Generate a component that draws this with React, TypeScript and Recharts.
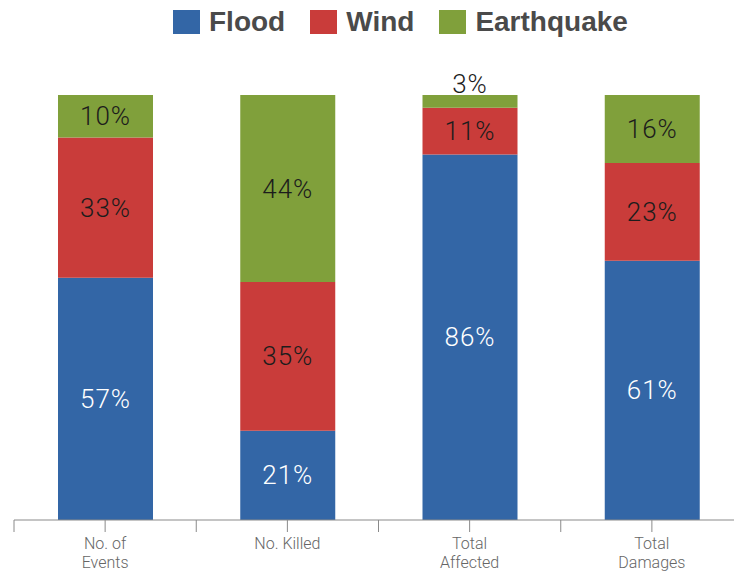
import React from "react";
import { BarChart, Bar, XAxis, YAxis, LabelList } from "recharts";

const categories = ["No. of\nEvents", "No. Killed", "Total\nAffected", "Total\nDamages"];
const flood = [57, 21, 86, 61];
const wind = [33, 35, 11, 23];
const earthquake = [10, 44, 3, 16];

const COLORS = { flood: "#3366a6", wind: "#c93c3a", earthquake: "#80a03b" };
const legendItems = [
  { name: "Flood", color: COLORS.flood },
  { name: "Wind", color: COLORS.wind },
  { name: "Earthquake", color: COLORS.earthquake },
];

const data = categories.map((name, i) => ({
  name,
  flood: flood[i],
  wind: wind[i],
  earthquake: earthquake[i],
}));

const CHART_W = 743;
const CHART_H = 574;
const MARGIN = { top: 95, right: 0, bottom: 0, left: 14 };
const HALF_BAND = (CHART_W - MARGIN.left - MARGIN.right) / categories.length / 2;

const AxisTick = ({ x, y, payload, index }: any) => {
  const lines = String(payload.value).split("\n");
  const last = index === categories.length - 1;
  return (
    <g>
      <line x1={x} x2={x} y1={y} y2={y + 12} stroke="#8a8a8a" />
      <line x1={x - HALF_BAND} x2={x - HALF_BAND} y1={y} y2={y + 12} stroke="#8a8a8a" />
      {last && (
        <line x1={x + HALF_BAND} x2={x + HALF_BAND} y1={y} y2={y + 12} stroke="#8a8a8a" />
      )}
      <text
        x={x}
        y={y}
        textAnchor="middle"
        fill="#666"
        fontSize={16}
        fontWeight={300}
        fontFamily="Roboto, sans-serif"
      >
        {lines.map((l, i) => (
          <tspan key={i} x={x} y={y + 29 + i * 19}>
            {l}
          </tspan>
        ))}
      </text>
    </g>
  );
};

const makeLabel = (fill: string) => (props: any) => {
  const { x, y, width, height, value } = props;
  const small = height < 22;
  return (
    <text
      x={x + width / 2}
      y={small ? y - 11 : y + height / 2}
      textAnchor="middle"
      dominantBaseline="central"
      fill={fill}
      fontSize={26}
      fontWeight={300}
      letterSpacing={1}
      fontFamily="Roboto, sans-serif"
    >
      {`${value}%`}
    </text>
  );
};

export default function App() {
  return (
    <div style={{ position: "relative", width: 734, height: 574, overflow: "hidden" }}>
      <style>{`html,body{margin:0;overflow:hidden;background:#fff}`}</style>
      <div
        style={{
          position: "absolute",
          left: 173,
          top: 6,
          display: "flex",
          alignItems: "center",
          fontFamily: "'Liberation Sans', Arial, sans-serif",
          fontWeight: 700,
          fontSize: 28,
          color: "#4a4a4a",
          zIndex: 1,
        }}
      >
        {legendItems.map((it) => (
          <div key={it.name} style={{ display: "flex", alignItems: "center", marginRight: 25 }}>
            <span
              style={{ width: 27, height: 24, background: it.color, display: "inline-block", marginRight: 9 }}
            />
            <span>{it.name}</span>
          </div>
        ))}
      </div>
      <BarChart width={CHART_W} height={CHART_H} data={data} margin={MARGIN}>
        <YAxis hide domain={[0, 100]} />
        <XAxis
          dataKey="name"
          height={54}
          tickLine={false}
          tickSize={0}
          tickMargin={0}
          interval={0}
          axisLine={{ stroke: "#8a8a8a" }}
          tick={<AxisTick />}
        />
        <Bar dataKey="flood" stackId="a" fill={COLORS.flood} barSize={95} isAnimationActive={false}>
          <LabelList dataKey="flood" content={makeLabel("#ffffff")} />
        </Bar>
        <Bar dataKey="wind" stackId="a" fill={COLORS.wind} barSize={95} isAnimationActive={false}>
          <LabelList dataKey="wind" content={makeLabel("#1c1c1c")} />
        </Bar>
        <Bar dataKey="earthquake" stackId="a" fill={COLORS.earthquake} barSize={95} isAnimationActive={false}>
          <LabelList dataKey="earthquake" content={makeLabel("#1c1c1c")} />
        </Bar>
      </BarChart>
    </div>
  );
}
